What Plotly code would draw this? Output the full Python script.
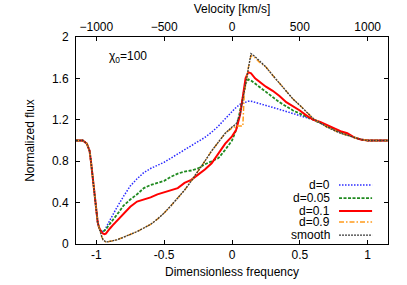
import plotly.graph_objects as go

# dimensionless frequency grid (shared by all profiles)
freq = ([-1.15, -1.1, -1.07, -1.05, -1.04, -1.03, -1.02, -1.01, -1.0, -0.99, -0.98]
        + [-0.97, -0.96, -0.95, -0.94, -0.93, -0.92, -0.9, -0.88, -0.85]
        + [-0.8, -0.75, -0.7, -0.65, -0.6, -0.55, -0.5, -0.45, -0.4, -0.35, -0.3, -0.25, -0.2, -0.15, -0.1, -0.05]
        + [0.0, 0.03, 0.06, 0.08, 0.09, 0.1, 0.12, 0.14, 0.17, 0.2]
        + [0.25, 0.3, 0.35, 0.4, 0.45, 0.5, 0.55, 0.6, 0.65, 0.7, 0.75, 0.8, 0.85, 0.9, 0.95, 1.0, 1.05, 1.1, 1.15])

# blue wing is identical for all runs
wing = [1.0, 1.0, 0.97, 0.9, 0.8, 0.68, 0.54, 0.4, 0.29, 0.21, 0.16]

flux_d0 = (wing
           + [0.13, 0.12, 0.12, 0.13, 0.15, 0.18, 0.23, 0.28, 0.35]
           + [0.46, 0.56, 0.63, 0.69, 0.73, 0.76, 0.79, 0.83, 0.87, 0.91, 0.95, 0.99, 1.03, 1.08, 1.14, 1.21]
           + [1.28, 1.32, 1.35, 1.36, 1.37, 1.37, 1.38, 1.38, 1.37, 1.36]
           + [1.34, 1.32, 1.3, 1.28, 1.26, 1.24, 1.22, 1.2, 1.17, 1.14, 1.11, 1.08, 1.06, 1.03, 1.01, 1.0, 1.0, 1.0, 1.0])

flux_d005 = (wing
             + [0.13, 0.12, 0.12, 0.13, 0.14, 0.16, 0.19, 0.23, 0.28]
             + [0.37, 0.43, 0.48, 0.54, 0.57, 0.59, 0.61, 0.65, 0.68, 0.7, 0.71, 0.73, 0.77, 0.8, 0.83, 0.91]
             + [1.0, 1.1, 1.3, 1.43, 1.5, 1.55, 1.59, 1.58, 1.55, 1.52]
             + [1.47, 1.42, 1.37, 1.33, 1.29, 1.26, 1.23, 1.2, 1.17, 1.14, 1.11, 1.08, 1.06, 1.03, 1.01, 1.0, 1.0, 1.0, 1.0])

flux_d01 = (wing
            + [0.13, 0.11, 0.1, 0.095, 0.1, 0.12, 0.15, 0.18, 0.22]
            + [0.29, 0.36, 0.41, 0.43, 0.45, 0.48, 0.5, 0.52, 0.54, 0.59, 0.62, 0.67, 0.72, 0.78, 0.88, 0.97]
            + [1.04, 1.1, 1.25, 1.42, 1.52, 1.6, 1.66, 1.65, 1.6, 1.57]
            + [1.52, 1.48, 1.43, 1.37, 1.33, 1.29, 1.24, 1.2, 1.18, 1.15, 1.12, 1.09, 1.07, 1.03, 1.01, 1.0, 1.0, 1.0, 1.0])

flux_d09 = (wing
            + [0.11, 0.07, 0.04, 0.025, 0.02, 0.02, 0.025, 0.03, 0.04]
            + [0.065, 0.09, 0.12, 0.155, 0.19, 0.24, 0.3, 0.37, 0.44, 0.52, 0.61, 0.7, 0.8, 0.9, 0.99, 1.07]
            + [1.12, 1.14, 1.14, 1.14, 1.45, 1.55, 1.7, 1.82, 1.8, 1.76]
            + [1.71, 1.63, 1.55, 1.47, 1.4, 1.34, 1.27, 1.21, 1.17, 1.13, 1.1, 1.07, 1.05, 1.03, 1.01, 1.0, 1.0, 1.0, 1.0])

flux_smooth = (wing
               + [0.11, 0.07, 0.04, 0.025, 0.02, 0.02, 0.025, 0.03, 0.04]
               + [0.065, 0.09, 0.12, 0.155, 0.19, 0.24, 0.3, 0.37, 0.44, 0.52, 0.61, 0.7, 0.8, 0.9, 0.99, 1.07]
               + [1.13, 1.16, 1.25, 1.4, 1.5, 1.58, 1.72, 1.84, 1.81, 1.77]
               + [1.71, 1.63, 1.55, 1.47, 1.4, 1.34, 1.27, 1.21, 1.17, 1.13, 1.1, 1.07, 1.05, 1.03, 1.01, 1.0, 1.0, 1.0, 1.0])

labels = ['d=0', 'd=0.05', 'd=0.1', 'd=0.9', 'smooth']
series = [flux_d0, flux_d005, flux_d01, flux_d09, flux_smooth]
colors = ['#2a2aff', '#1f8a1f', '#ff0000', '#ff9a1a', '#3a3a3a']
dashes = ['1.5px,1.5px', '3px,1.5px', 'solid', '5px,2px,1.5px,2px', '2px,1px']
widths = [1.5, 1.8, 2, 1.5, 1.3]

freq_ticks = [-1, -0.5, 0, 0.5, 1]
vel_ticks = [-1000, -500, 0, 500, 1000]
flux_ticks = [0, 0.4, 0.8, 1.2, 1.6, 2]

FONT = 'Liberation Sans, Arial, sans-serif'

fig = go.Figure()
for lab, y, c, d, w in zip(labels, series, colors, dashes, widths):
    fig.add_trace(go.Scatter(x=freq, y=y, mode='lines', name=lab,
                             line=dict(color=c, dash=d, width=w)))
# dummy trace to activate the top velocity axis
fig.add_trace(go.Scatter(x=[vel_ticks[0]], y=[None], xaxis='x2', showlegend=False, hoverinfo='skip'))

# legend drawn gnuplot style: text on the left, sample on the right
ly = [0.285, 0.222, 0.159, 0.106, 0.043]
for lab, c, d, w, yy in zip(labels, colors, dashes, widths, ly):
    fig.add_annotation(x=0.822, y=yy, xref='paper', yref='paper', text=lab,
                       showarrow=False, xanchor='right', yanchor='middle',
                       font=dict(size=12, color='black', family=FONT))
    fig.add_shape(type='line', xref='paper', yref='paper', x0=0.843, x1=0.949, y0=yy, y1=yy,
                  line=dict(color=c, dash=d, width=w))

fig.add_annotation(x=-0.92, y=1.81, text='\u03c7<sub>0</sub>=100', showarrow=False,
                   xanchor='left', yanchor='middle', font=dict(size=12, color='black', family=FONT))

axis_common = dict(showline=True, linecolor='black', linewidth=1, ticks='inside', ticklen=4,
                   tickcolor='black', showgrid=False, zeroline=False, automargin=False,
                   tickfont=dict(size=12, color='black', family=FONT))

fig.update_layout(
    width=407, height=285,
    margin=dict(l=76, r=19, t=37, b=41),
    plot_bgcolor='white', paper_bgcolor='white',
    showlegend=False,
    font=dict(family=FONT, size=12, color='black'),
    xaxis=dict(range=[-1.15, 1.15], tickvals=freq_ticks, ticktext=['-1', '-0.5', '0', '0.5', '1'],
               title=dict(text='Dimensionless frequency', standoff=6, font=dict(size=12)),
               **axis_common),
    xaxis2=dict(range=[-1150, 1150], tickvals=vel_ticks, overlaying='x', side='top', anchor='y',
                title=dict(text='Velocity [km/s]', standoff=4, font=dict(size=12)),
                **axis_common),
    yaxis=dict(range=[0, 2], tickvals=flux_ticks, ticktext=['0', '0.4', '0.8', '1.2', '1.6', '2'],
               mirror='ticks', ticklabelstandoff=4,
               title=dict(text='Normalized flux', standoff=14, font=dict(size=12)),
               **axis_common),
)

# drop the page's default body margin so the figure sits at the window's corner
fig.write_html("out.html", config={'displayModeBar': False},
               post_script="document.body.style.margin='0';")
